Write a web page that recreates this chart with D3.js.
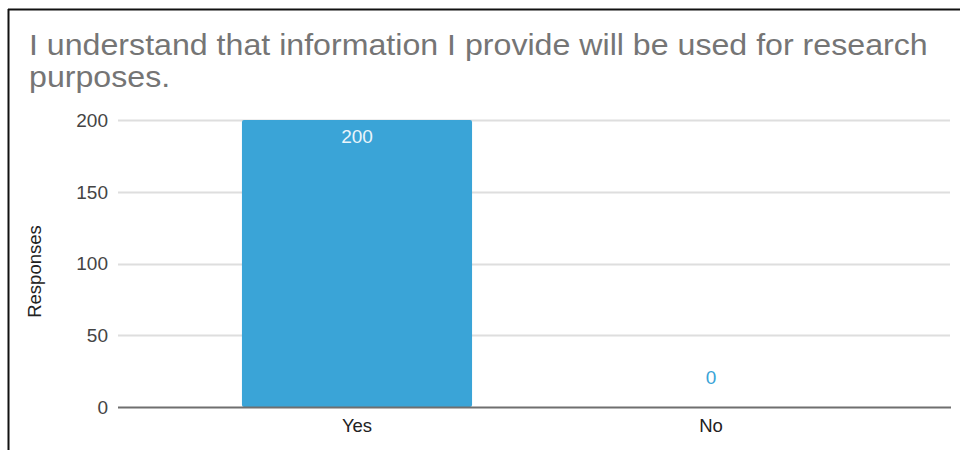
<!DOCTYPE html>
<html>
<head>
<meta charset="utf-8">
<script src="https://cdn.jsdelivr.net/npm/d3@7"></script>
<style>
  html, body { margin: 0; padding: 0; background: #fff; }
  svg { display: block; font-family: "Liberation Sans", Arial, sans-serif; }
</style>
</head>
<body>
<svg id="chart" width="960" height="450"></svg>
<script>
// Survey answers and counts
const categories = ["Yes", "No"];
const responses = [200, 0];
const yTicks = [0, 50, 100, 150, 200];
const titleLines = [
  "I understand that information I provide will be used for research",
  "purposes."
];
const yAxisTitle = "Responses";

const svg = d3.select("#chart");

// Frame lines along the top and left edge
svg.append("line").attr("x1", 8).attr("x2", 960).attr("y1", 9.5).attr("y2", 9.5)
  .attr("stroke", "#111").attr("stroke-width", 2);
svg.append("line").attr("x1", 8.5).attr("x2", 8.5).attr("y1", 9).attr("y2", 450)
  .attr("stroke", "#111").attr("stroke-width", 2);

// Title, two lines, stretched so the first line spans the plot width
const titleG = svg.append("g");
const titleText = titleG.selectAll("text").data(titleLines).join("text")
  .attr("x", 0)
  .attr("y", (d, i) => 55 + i * 32)
  .attr("font-size", 29.5)
  .attr("fill", "#757575")
  .text(d => d);
const firstLen = titleText.node().getComputedTextLength();
titleG.attr("transform", `translate(29,0) scale(${899 / firstLen},1)`);

const gridLeft = 118, gridRight = 950;
const y = d3.scaleLinear().domain([0, 200]).range([407, 120]);
const x = d3.scaleBand().domain(categories).range([180, 888])
  .paddingInner(0.35).paddingOuter(0.175);

// Horizontal gridlines
svg.append("g").selectAll("line").data(yTicks.filter(t => t !== 0)).join("line")
  .attr("x1", gridLeft).attr("x2", gridRight)
  .attr("y1", d => Math.round(y(d)) + 0.5).attr("y2", d => Math.round(y(d)) + 0.5)
  .attr("stroke", "#dedede").attr("stroke-width", 2);

// Y tick labels
svg.append("g").selectAll("text").data(yTicks).join("text")
  .attr("x", 108)
  .attr("y", d => y(d))
  .attr("dy", "0.36em")
  .attr("text-anchor", "end")
  .attr("font-size", 19)
  .attr("fill", "#444")
  .text(d => d);

// Y axis title
svg.append("text")
  .attr("transform", `translate(41,${(y(0) + y(200)) / 2 + 8}) rotate(-90)`)
  .attr("text-anchor", "middle")
  .attr("font-size", 18.5)
  .attr("fill", "#222")
  .text(yAxisTitle);

// Bars
svg.append("g").selectAll("rect").data(categories).join("rect")
  .attr("x", d => x(d))
  .attr("width", x.bandwidth())
  .attr("y", (d, i) => y(responses[i]))
  .attr("height", (d, i) => y(0) - y(responses[i]))
  .attr("rx", 2)
  .attr("fill", "#3aa4d7");

// Baseline
svg.append("line").attr("x1", gridLeft).attr("x2", gridRight + 1)
  .attr("y1", y(0) + 0.5).attr("y2", y(0) + 0.5)
  .attr("stroke", "#6f6f6f").attr("stroke-width", 2);

// Value labels: inside the bar when it has room, above it otherwise
svg.append("g").selectAll("text").data(categories).join("text")
  .attr("x", d => x(d) + x.bandwidth() / 2)
  .attr("y", (d, i) => {
    const h = y(0) - y(responses[i]);
    return h > 30 ? y(responses[i]) + 23 : y(responses[i]) - 23;
  })
  .attr("text-anchor", "middle")
  .attr("font-size", 19)
  .attr("fill", (d, i) => (y(0) - y(responses[i]) > 30 ? "#eaf5fb" : "#3aa4d7"))
  .text((d, i) => responses[i]);

// Category labels
svg.append("g").selectAll("text").data(categories).join("text")
  .attr("x", d => x(d) + x.bandwidth() / 2)
  .attr("y", 432)
  .attr("text-anchor", "middle")
  .attr("font-size", 18.5)
  .attr("fill", "#222")
  .text(d => d);
</script>
</body>
</html>
